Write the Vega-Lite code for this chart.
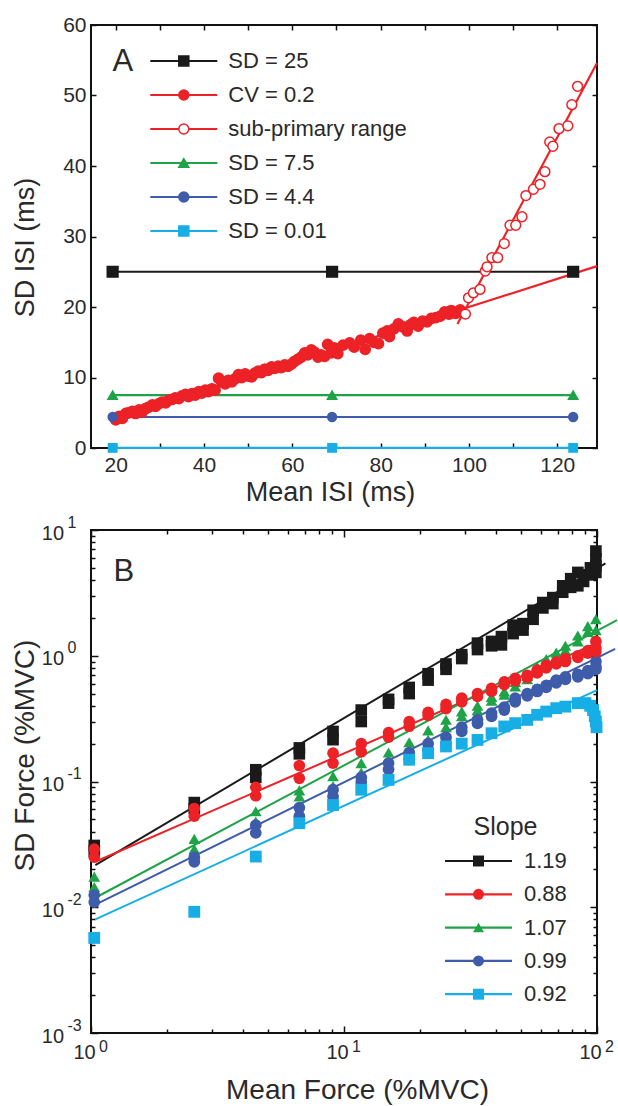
{
"$schema": "https://vega.github.io/schema/vega-lite/v6.json",
"padding": {"left": 10, "top": 13, "right": 0, "bottom": 0},
"spacing": 7,
"config": {
 "font": "Liberation Sans",
 "view": {"stroke": "#111", "strokeWidth": 2},
 "axis": {"grid": false, "domain": false, "tickColor": "#111", "tickWidth": 1.5, "labelColor": "#2a2a2a", "titleColor": "#2a2a2a", "titleFontWeight": "normal", "labelFlush": false, "labelOverlap": false, "labelBound": false},
 "legend": {"padding": 0, "labelColor": "#2a2a2a", "titleColor": "#2a2a2a", "titleFontWeight": "normal"}
},
"resolve": {"scale": {"color": "independent", "fill": "independent", "stroke": "independent", "shape": "independent", "size": "independent"}, "legend": {"color": "independent", "fill": "independent", "stroke": "independent", "shape": "independent"}},
"datasets": {
 "alines": [
  {"series":"SD = 25","x":19.3,"y":25},{"series":"SD = 25","x":69,"y":25},{"series":"SD = 25","x":123.6,"y":25},
  {"series":"SD = 7.5","x":19.3,"y":7.5},{"series":"SD = 7.5","x":69,"y":7.5},{"series":"SD = 7.5","x":123.6,"y":7.5},
  {"series":"SD = 4.4","x":19.3,"y":4.4},{"series":"SD = 4.4","x":69,"y":4.4},{"series":"SD = 4.4","x":123.6,"y":4.4},
  {"series":"SD = 0.01","x":19.3,"y":0.01},{"series":"SD = 0.01","x":69,"y":0.01},{"series":"SD = 0.01","x":123.6,"y":0.01},
  {"series":"CV = 0.2","x":19.5,"y":3.9},{"series":"CV = 0.2","x":129,"y":25.8},
  {"series":"sub-primary range","x":97.4,"y":17.6},{"series":"sub-primary range","x":129,"y":54.6}
 ],
 "apts": [
  {"series":"CV = 0.2","x":20.0,"y":4.0},{"series":"CV = 0.2","x":20.8,"y":4.5},{"series":"CV = 0.2","x":21.5,"y":4.2},{"series":"CV = 0.2","x":22.3,"y":4.9},
  {"series":"CV = 0.2","x":23.0,"y":5.0},{"series":"CV = 0.2","x":23.8,"y":5.2},{"series":"CV = 0.2","x":24.5,"y":4.9},{"series":"CV = 0.2","x":25.3,"y":5.4},
  {"series":"CV = 0.2","x":26.0,"y":5.1},{"series":"CV = 0.2","x":26.8,"y":5.6},{"series":"CV = 0.2","x":27.5,"y":5.8},{"series":"CV = 0.2","x":28.3,"y":6.1},
  {"series":"CV = 0.2","x":29.0,"y":5.9},{"series":"CV = 0.2","x":29.8,"y":6.3},{"series":"CV = 0.2","x":30.5,"y":6.5},{"series":"CV = 0.2","x":31.3,"y":6.4},
  {"series":"CV = 0.2","x":32.0,"y":6.8},{"series":"CV = 0.2","x":32.8,"y":6.9},{"series":"CV = 0.2","x":33.5,"y":7.1},{"series":"CV = 0.2","x":34.3,"y":7.0},
  {"series":"CV = 0.2","x":35.0,"y":7.4},{"series":"CV = 0.2","x":35.8,"y":7.6},{"series":"CV = 0.2","x":36.5,"y":7.3},{"series":"CV = 0.2","x":37.3,"y":7.7},
  {"series":"CV = 0.2","x":38.0,"y":7.5},{"series":"CV = 0.2","x":38.8,"y":8.0},{"series":"CV = 0.2","x":39.5,"y":7.8},{"series":"CV = 0.2","x":40.3,"y":8.2},
  {"series":"CV = 0.2","x":41.0,"y":8.0},{"series":"CV = 0.2","x":41.8,"y":8.4},{"series":"CV = 0.2","x":42.5,"y":8.2},{"series":"CV = 0.2","x":43.3,"y":9.9},
  {"series":"CV = 0.2","x":44.0,"y":9.4},{"series":"CV = 0.2","x":44.8,"y":9.1},{"series":"CV = 0.2","x":45.5,"y":9.6},{"series":"CV = 0.2","x":46.3,"y":9.4},
  {"series":"CV = 0.2","x":47.0,"y":9.8},{"series":"CV = 0.2","x":47.8,"y":10.4},{"series":"CV = 0.2","x":48.5,"y":10.0},{"series":"CV = 0.2","x":49.3,"y":10.5},
  {"series":"CV = 0.2","x":50.0,"y":10.2},{"series":"CV = 0.2","x":50.8,"y":10.1},{"series":"CV = 0.2","x":51.5,"y":10.6},{"series":"CV = 0.2","x":52.3,"y":10.9},
  {"series":"CV = 0.2","x":53.0,"y":10.7},{"series":"CV = 0.2","x":53.8,"y":11.2},{"series":"CV = 0.2","x":54.5,"y":11.0},{"series":"CV = 0.2","x":55.3,"y":11.5},
  {"series":"CV = 0.2","x":56.0,"y":11.3},{"series":"CV = 0.2","x":56.8,"y":11.6},{"series":"CV = 0.2","x":57.5,"y":11.4},{"series":"CV = 0.2","x":58.3,"y":11.8},
  {"series":"CV = 0.2","x":59.0,"y":11.6},{"series":"CV = 0.2","x":59.8,"y":11.9},{"series":"CV = 0.2","x":60.5,"y":12.3},{"series":"CV = 0.2","x":61.3,"y":12.6},
  {"series":"CV = 0.2","x":62.0,"y":12.9},{"series":"CV = 0.2","x":62.8,"y":13.5},{"series":"CV = 0.2","x":63.5,"y":13.2},{"series":"CV = 0.2","x":64.3,"y":13.9},
  {"series":"CV = 0.2","x":65.0,"y":13.6},{"series":"CV = 0.2","x":65.8,"y":12.9},{"series":"CV = 0.2","x":66.5,"y":13.2},{"series":"CV = 0.2","x":67.3,"y":13.0},
  {"series":"CV = 0.2","x":68.0,"y":14.7},{"series":"CV = 0.2","x":68.8,"y":13.5},{"series":"CV = 0.2","x":69.5,"y":14.2},{"series":"CV = 0.2","x":70.3,"y":13.4},
  {"series":"CV = 0.2","x":71.5,"y":14.6},{"series":"CV = 0.2","x":73.0,"y":14.9},{"series":"CV = 0.2","x":74.0,"y":14.3},{"series":"CV = 0.2","x":75.5,"y":15.3},
  {"series":"CV = 0.2","x":76.5,"y":14.0},{"series":"CV = 0.2","x":77.5,"y":15.5},{"series":"CV = 0.2","x":78.5,"y":15.0},{"series":"CV = 0.2","x":79.5,"y":14.8},
  {"series":"CV = 0.2","x":80.5,"y":16.3},{"series":"CV = 0.2","x":81.5,"y":16.6},{"series":"CV = 0.2","x":82.0,"y":15.8},{"series":"CV = 0.2","x":83.0,"y":16.9},
  {"series":"CV = 0.2","x":84.0,"y":17.6},{"series":"CV = 0.2","x":85.0,"y":17.2},{"series":"CV = 0.2","x":86.0,"y":16.6},{"series":"CV = 0.2","x":86.8,"y":17.5},
  {"series":"CV = 0.2","x":87.5,"y":17.8},{"series":"CV = 0.2","x":88.5,"y":17.3},{"series":"CV = 0.2","x":89.5,"y":18.0},{"series":"CV = 0.2","x":90.5,"y":17.9},
  {"series":"CV = 0.2","x":91.5,"y":18.4},{"series":"CV = 0.2","x":92.5,"y":18.5},{"series":"CV = 0.2","x":93.5,"y":18.7},{"series":"CV = 0.2","x":94.5,"y":19.3},
  {"series":"CV = 0.2","x":95.5,"y":19.0},{"series":"CV = 0.2","x":96.0,"y":19.5},{"series":"CV = 0.2","x":97.0,"y":19.1},{"series":"CV = 0.2","x":98.0,"y":19.6},
  {"series":"sub-primary range","x":99.2,"y":19.0},{"series":"sub-primary range","x":99.9,"y":21.3},{"series":"sub-primary range","x":101.0,"y":22.0},
  {"series":"sub-primary range","x":102.5,"y":22.5},{"series":"sub-primary range","x":103.7,"y":25.1},{"series":"sub-primary range","x":104.1,"y":25.7},
  {"series":"sub-primary range","x":105.2,"y":27.0},{"series":"sub-primary range","x":106.5,"y":27.0},{"series":"sub-primary range","x":108.0,"y":29.0},
  {"series":"sub-primary range","x":109.3,"y":31.6},{"series":"sub-primary range","x":110.6,"y":31.6},{"series":"sub-primary range","x":112.0,"y":32.8},
  {"series":"sub-primary range","x":112.9,"y":35.8},{"series":"sub-primary range","x":114.6,"y":36.7},{"series":"sub-primary range","x":116.1,"y":37.4},
  {"series":"sub-primary range","x":117.2,"y":39.2},{"series":"sub-primary range","x":118.3,"y":43.4},{"series":"sub-primary range","x":119.0,"y":42.8},
  {"series":"sub-primary range","x":120.4,"y":45.3},{"series":"sub-primary range","x":122.4,"y":45.7},{"series":"sub-primary range","x":123.3,"y":48.7},
  {"series":"sub-primary range","x":124.6,"y":51.3},
  {"series":"SD = 25","x":19.3,"y":25},{"series":"SD = 25","x":69,"y":25},{"series":"SD = 25","x":123.6,"y":25},
  {"series":"SD = 7.5","x":19.3,"y":7.5},{"series":"SD = 7.5","x":69,"y":7.5},{"series":"SD = 7.5","x":123.6,"y":7.5},
  {"series":"SD = 4.4","x":19.3,"y":4.4},{"series":"SD = 4.4","x":69,"y":4.4},{"series":"SD = 4.4","x":123.6,"y":4.4},
  {"series":"SD = 0.01","x":19.3,"y":0.01},{"series":"SD = 0.01","x":69,"y":0.01},{"series":"SD = 0.01","x":123.6,"y":0.01}
 ],
 "blines": [
  {"slope":"1.19","x":1.04,"y":0.0216},{"slope":"1.19","x":108,"y":5.42},
  {"slope":"0.88","x":1.04,"y":0.023},{"slope":"0.88","x":102,"y":1.28},
  {"slope":"1.07","x":1.04,"y":0.0119},{"slope":"1.07","x":120,"y":1.92},
  {"slope":"0.99","x":1.04,"y":0.0105},{"slope":"0.99","x":118,"y":1.134},
  {"slope":"0.92","x":1.04,"y":0.008},{"slope":"0.92","x":100,"y":0.533}
 ],
 "bpts": [
  {"slope":"1.19","x":1.03,"y":0.031},{"slope":"1.19","x":1.03,"y":0.028},{"slope":"1.19","x":2.56,"y":0.068},{"slope":"1.19","x":2.56,"y":0.061},
  {"slope":"1.19","x":4.48,"y":0.124},{"slope":"1.19","x":4.48,"y":0.108},{"slope":"1.19","x":6.66,"y":0.185},{"slope":"1.19","x":6.66,"y":0.166},
  {"slope":"1.19","x":9.05,"y":0.25},{"slope":"1.19","x":9.05,"y":0.215},{"slope":"1.19","x":11.7,"y":0.37},{"slope":"1.19","x":11.7,"y":0.3},
  {"slope":"1.19","x":15.0,"y":0.45},{"slope":"1.19","x":15.0,"y":0.42},{"slope":"1.19","x":18.1,"y":0.56},{"slope":"1.19","x":18.1,"y":0.5},
  {"slope":"1.19","x":21.5,"y":0.72},{"slope":"1.19","x":21.5,"y":0.64},{"slope":"1.19","x":25.3,"y":0.86},{"slope":"1.19","x":25.3,"y":0.78},
  {"slope":"1.19","x":29.2,"y":1.02},{"slope":"1.19","x":29.2,"y":0.95},{"slope":"1.19","x":33.7,"y":1.26},{"slope":"1.19","x":33.7,"y":1.12},
  {"slope":"1.19","x":38.3,"y":1.3},{"slope":"1.19","x":38.3,"y":1.2},{"slope":"1.19","x":41.9,"y":1.42},{"slope":"1.19","x":41.9,"y":1.22},
  {"slope":"1.19","x":46.6,"y":1.75},{"slope":"1.19","x":46.6,"y":1.5},{"slope":"1.19","x":51.0,"y":1.8},{"slope":"1.19","x":51.0,"y":1.6},
  {"slope":"1.19","x":55.9,"y":2.3},{"slope":"1.19","x":55.9,"y":1.95},{"slope":"1.19","x":61.1,"y":2.65},{"slope":"1.19","x":61.1,"y":2.4},
  {"slope":"1.19","x":66.9,"y":2.9},{"slope":"1.19","x":66.9,"y":2.6},{"slope":"1.19","x":73.2,"y":3.6},{"slope":"1.19","x":73.2,"y":3.2},
  {"slope":"1.19","x":78.7,"y":4.1},{"slope":"1.19","x":78.7,"y":3.5},{"slope":"1.19","x":84,"y":4.6},{"slope":"1.19","x":84,"y":3.6},
  {"slope":"1.19","x":88.5,"y":4.4},{"slope":"1.19","x":88.5,"y":3.9},{"slope":"1.19","x":94.2,"y":5.0},{"slope":"1.19","x":94.2,"y":4.4},
  {"slope":"1.19","x":99,"y":6.8},{"slope":"1.19","x":99,"y":5.9},{"slope":"1.19","x":99,"y":5.2},{"slope":"1.19","x":99,"y":4.6},
  {"slope":"1.07","x":1.03,"y":0.0175},{"slope":"1.07","x":1.03,"y":0.0145},{"slope":"1.07","x":2.56,"y":0.035},{"slope":"1.07","x":2.56,"y":0.029},
  {"slope":"1.07","x":4.48,"y":0.058},{"slope":"1.07","x":4.48,"y":0.048},{"slope":"1.07","x":6.66,"y":0.085},{"slope":"1.07","x":6.66,"y":0.076},
  {"slope":"1.07","x":9.05,"y":0.11},{"slope":"1.07","x":9.05,"y":0.092},{"slope":"1.07","x":11.7,"y":0.14},{"slope":"1.07","x":11.7,"y":0.118},
  {"slope":"1.07","x":15.0,"y":0.17},{"slope":"1.07","x":15.0,"y":0.148},{"slope":"1.07","x":18.1,"y":0.205},{"slope":"1.07","x":18.1,"y":0.18},
  {"slope":"1.07","x":21.5,"y":0.255},{"slope":"1.07","x":21.5,"y":0.215},{"slope":"1.07","x":25.3,"y":0.31},{"slope":"1.07","x":25.3,"y":0.27},
  {"slope":"1.07","x":29.2,"y":0.36},{"slope":"1.07","x":29.2,"y":0.33},{"slope":"1.07","x":33.7,"y":0.4},{"slope":"1.07","x":33.7,"y":0.37},
  {"slope":"1.07","x":38.3,"y":0.47},{"slope":"1.07","x":38.3,"y":0.44},{"slope":"1.07","x":43,"y":0.52},{"slope":"1.07","x":43,"y":0.49},
  {"slope":"1.07","x":47.5,"y":0.62},{"slope":"1.07","x":47.5,"y":0.57},{"slope":"1.07","x":53,"y":0.69},{"slope":"1.07","x":53,"y":0.65},
  {"slope":"1.07","x":58,"y":0.82},{"slope":"1.07","x":58,"y":0.76},{"slope":"1.07","x":63,"y":0.94},{"slope":"1.07","x":63,"y":0.86},
  {"slope":"1.07","x":69,"y":1.06},{"slope":"1.07","x":69,"y":0.98},{"slope":"1.07","x":75,"y":1.2},{"slope":"1.07","x":75,"y":1.1},
  {"slope":"1.07","x":84,"y":1.45},{"slope":"1.07","x":84,"y":1.3},{"slope":"1.07","x":92,"y":1.72},{"slope":"1.07","x":92,"y":1.55},
  {"slope":"1.07","x":99,"y":1.95},{"slope":"1.07","x":99,"y":1.6},
  {"slope":"0.99","x":1.03,"y":0.0125},{"slope":"0.99","x":1.03,"y":0.011},{"slope":"0.99","x":2.56,"y":0.025},{"slope":"0.99","x":2.56,"y":0.023},
  {"slope":"0.99","x":4.48,"y":0.045},{"slope":"0.99","x":4.48,"y":0.039},{"slope":"0.99","x":6.66,"y":0.062},{"slope":"0.99","x":6.66,"y":0.053},
  {"slope":"0.99","x":9.05,"y":0.086},{"slope":"0.99","x":9.05,"y":0.076},{"slope":"0.99","x":11.7,"y":0.108},{"slope":"0.99","x":11.7,"y":0.099},
  {"slope":"0.99","x":15.0,"y":0.14},{"slope":"0.99","x":15.0,"y":0.125},{"slope":"0.99","x":18.1,"y":0.17},{"slope":"0.99","x":18.1,"y":0.15},
  {"slope":"0.99","x":21.5,"y":0.2},{"slope":"0.99","x":21.5,"y":0.18},{"slope":"0.99","x":25.3,"y":0.225},{"slope":"0.99","x":25.3,"y":0.2},
  {"slope":"0.99","x":29.2,"y":0.27},{"slope":"0.99","x":29.2,"y":0.25},{"slope":"0.99","x":33.7,"y":0.31},{"slope":"0.99","x":33.7,"y":0.29},
  {"slope":"0.99","x":38.3,"y":0.35},{"slope":"0.99","x":38.3,"y":0.33},{"slope":"0.99","x":43,"y":0.39},{"slope":"0.99","x":43,"y":0.37},
  {"slope":"0.99","x":47.5,"y":0.46},{"slope":"0.99","x":47.5,"y":0.43},{"slope":"0.99","x":53,"y":0.5},{"slope":"0.99","x":53,"y":0.48},
  {"slope":"0.99","x":58,"y":0.54},{"slope":"0.99","x":58,"y":0.52},{"slope":"0.99","x":63,"y":0.58},{"slope":"0.99","x":63,"y":0.56},
  {"slope":"0.99","x":69,"y":0.64},{"slope":"0.99","x":69,"y":0.61},{"slope":"0.99","x":75,"y":0.68},{"slope":"0.99","x":75,"y":0.65},
  {"slope":"0.99","x":84,"y":0.71},{"slope":"0.99","x":84,"y":0.68},{"slope":"0.99","x":92,"y":0.76},{"slope":"0.99","x":92,"y":0.72},
  {"slope":"0.99","x":99,"y":0.9},{"slope":"0.99","x":99,"y":0.82},{"slope":"0.99","x":99,"y":0.78},
  {"slope":"0.88","x":1.03,"y":0.029},{"slope":"0.88","x":1.03,"y":0.025},{"slope":"0.88","x":2.56,"y":0.061},{"slope":"0.88","x":2.56,"y":0.053},
  {"slope":"0.88","x":4.48,"y":0.09},{"slope":"0.88","x":4.48,"y":0.077},{"slope":"0.88","x":6.66,"y":0.134},{"slope":"0.88","x":6.66,"y":0.106},
  {"slope":"0.88","x":9.05,"y":0.168},{"slope":"0.88","x":9.05,"y":0.14},{"slope":"0.88","x":11.7,"y":0.2},{"slope":"0.88","x":11.7,"y":0.172},
  {"slope":"0.88","x":15.0,"y":0.245},{"slope":"0.88","x":15.0,"y":0.225},{"slope":"0.88","x":18.1,"y":0.3},{"slope":"0.88","x":18.1,"y":0.275},
  {"slope":"0.88","x":21.5,"y":0.355},{"slope":"0.88","x":21.5,"y":0.335},{"slope":"0.88","x":25.3,"y":0.41},{"slope":"0.88","x":25.3,"y":0.38},
  {"slope":"0.88","x":29.2,"y":0.46},{"slope":"0.88","x":29.2,"y":0.43},{"slope":"0.88","x":33.7,"y":0.5},{"slope":"0.88","x":33.7,"y":0.475},
  {"slope":"0.88","x":38.3,"y":0.55},{"slope":"0.88","x":38.3,"y":0.52},{"slope":"0.88","x":43,"y":0.62},{"slope":"0.88","x":43,"y":0.59},
  {"slope":"0.88","x":47.5,"y":0.66},{"slope":"0.88","x":47.5,"y":0.63},{"slope":"0.88","x":53,"y":0.7},{"slope":"0.88","x":53,"y":0.67},
  {"slope":"0.88","x":58,"y":0.77},{"slope":"0.88","x":58,"y":0.73},{"slope":"0.88","x":63,"y":0.84},{"slope":"0.88","x":63,"y":0.8},
  {"slope":"0.88","x":69,"y":0.89},{"slope":"0.88","x":69,"y":0.86},{"slope":"0.88","x":75,"y":0.95},{"slope":"0.88","x":75,"y":0.9},
  {"slope":"0.88","x":84,"y":1.0},{"slope":"0.88","x":84,"y":0.97},{"slope":"0.88","x":92,"y":1.1},{"slope":"0.88","x":92,"y":1.05},
  {"slope":"0.88","x":99,"y":1.3},{"slope":"0.88","x":99,"y":1.15},{"slope":"0.88","x":99,"y":1.08},
  {"slope":"0.92","x":1.03,"y":0.0057},{"slope":"0.92","x":2.56,"y":0.0092},{"slope":"0.92","x":4.48,"y":0.0253},{"slope":"0.92","x":6.66,"y":0.0466},
  {"slope":"0.92","x":9.05,"y":0.065},{"slope":"0.92","x":11.7,"y":0.086},{"slope":"0.92","x":15.0,"y":0.103},{"slope":"0.92","x":18.1,"y":0.149},
  {"slope":"0.92","x":21.5,"y":0.168},{"slope":"0.92","x":25.3,"y":0.19},{"slope":"0.92","x":29.2,"y":0.2},{"slope":"0.92","x":33.7,"y":0.214},
  {"slope":"0.92","x":38.3,"y":0.242},{"slope":"0.92","x":43,"y":0.274},{"slope":"0.92","x":47.5,"y":0.291},{"slope":"0.92","x":53,"y":0.309},
  {"slope":"0.92","x":58,"y":0.339},{"slope":"0.92","x":63,"y":0.36},{"slope":"0.92","x":69,"y":0.383},{"slope":"0.92","x":75,"y":0.394},
  {"slope":"0.92","x":84,"y":0.42},{"slope":"0.92","x":90,"y":0.42},{"slope":"0.92","x":94,"y":0.4},{"slope":"0.92","x":96.5,"y":0.37},
  {"slope":"0.92","x":98,"y":0.33},{"slope":"0.92","x":99,"y":0.3},{"slope":"0.92","x":99.6,"y":0.27}
 ]
},
"vconcat": [
 {
  "width": 506, "height": 423,
  "resolve": {"axis": {"x": "independent", "y": "independent"}, "legend": {"color": "independent", "stroke": "independent", "fill": "independent", "shape": "independent"}},
  "layer": [
   {
    "data": {"name": "alines"},
    "mark": {"type": "line", "strokeWidth": 2.2, "clip": false},
    "encoding": {
     "x": {"field": "x", "type": "quantitative", "scale": {"domain": [14.4, 129], "nice": false, "zero": false},
           "axis": {"orient": "bottom", "values": [20,30,40,50,60,70,80,90,100,110,120], "labelExpr": "datum.value % 20 === 0 ? datum.label : ''", "tickSize": -5, "labelPadding": 11, "labelFontSize": 21, "title": "Mean ISI (ms)", "titleFontSize": 27, "titleX": 239, "titleY": 31, "titleBaseline": "top"}},
     "y": {"field": "y", "type": "quantitative", "scale": {"domain": [0, 60], "nice": false},
           "axis": {"orient": "left", "values": [0,10,20,30,40,50,60], "tickSize": -5, "labelPadding": 10, "labelFontSize": 21, "title": "SD ISI (ms)", "titleFontSize": 27, "titleX": -52, "titleY": 222}},
     "color": {"field": "series", "type": "nominal",
       "scale": {"domain": ["SD = 25","CV = 0.2","sub-primary range","SD = 7.5","SD = 4.4","SD = 0.01"], "range": ["#1a1a1a","#ec2227","#ec2227","#1fa347","#3e5caa","#17aee6"]},
       "legend": {"orient": "none", "legendX": 57.8, "legendY": 25, "title": null, "symbolType": "stroke", "symbolSize": 4489, "symbolStrokeWidth": 2.2, "labelFontSize": 22, "clipHeight": 22, "rowPadding": 12, "labelOffset": 9.5, "labelLimit": 400}}
    }
   },
   {
    "data": {"name": "apts"},
    "mark": {"type": "point", "filled": false, "strokeWidth": 1.5, "opacity": 1},
    "encoding": {
     "x": {"field": "x", "type": "quantitative", "scale": {"domain": [14.4, 129], "nice": false, "zero": false},
           "axis": {"orient": "top", "values": [20,30,40,50,60,70,80,90,100,110,120], "labels": false, "tickSize": -5, "title": "A", "titleFontSize": 31, "titleAlign": "left", "titleBaseline": "alphabetic", "titleX": 21, "titleY": 45, "titleAngle": 0}},
     "y": {"field": "y", "type": "quantitative", "scale": {"domain": [0, 60], "nice": false},
           "axis": {"orient": "right", "values": [0,10,20,30,40,50,60], "labels": false, "tickSize": -5, "title": null}},
     "stroke": {"field": "series", "type": "nominal",
       "scale": {"domain": ["SD = 25","CV = 0.2","sub-primary range","SD = 7.5","SD = 4.4","SD = 0.01"], "range": ["#1a1a1a","#ec2227","#ec2227","#1fa347","#3e5caa","#17aee6"]},
       "legend": {"orient": "none", "legendX": 81.8, "legendY": 25, "title": null, "symbolSize": 100, "symbolStrokeWidth": 1.5, "symbolOpacity": 1, "labelFontSize": 22, "labelExpr": "' '", "labelColor": "rgba(0,0,0,0)", "rowPadding": 12, "labelOffset": 9.5}},
     "fill": {"field": "series", "type": "nominal",
       "scale": {"domain": ["SD = 25","CV = 0.2","sub-primary range","SD = 7.5","SD = 4.4","SD = 0.01"], "range": ["#1a1a1a","#ec2227","#ffffff","#1fa347","#3e5caa","#17aee6"]},
       "legend": {"orient": "none", "legendX": 81.8, "legendY": 25, "title": null, "symbolSize": 100, "symbolStrokeWidth": 1.5, "symbolOpacity": 1, "labelFontSize": 22, "labelExpr": "' '", "labelColor": "rgba(0,0,0,0)", "rowPadding": 12, "labelOffset": 9.5}},
     "shape": {"field": "series", "type": "nominal",
       "scale": {"domain": ["SD = 25","CV = 0.2","sub-primary range","SD = 7.5","SD = 4.4","SD = 0.01"], "range": ["square","circle","circle","triangle-up","circle","square"]},
       "legend": {"orient": "none", "legendX": 81.8, "legendY": 25, "title": null, "symbolSize": 100, "symbolStrokeWidth": 1.5, "symbolOpacity": 1, "labelFontSize": 22, "labelExpr": "' '", "labelColor": "rgba(0,0,0,0)", "rowPadding": 12, "labelOffset": 9.5}},
     "size": {"field": "series", "type": "nominal",
       "scale": {"domain": ["SD = 25","CV = 0.2","sub-primary range","SD = 7.5","SD = 4.4","SD = 0.01"], "range": [115, 70, 60, 210, 135, 100]}, "legend": null}
    }
   }
  ]
 },
 {
  "width": 506, "height": 503,
  "resolve": {"axis": {"x": "independent", "y": "independent"}, "legend": {"color": "independent", "fill": "independent", "shape": "independent"}},
  "layer": [
   {
    "data": {"name": "blines"},
    "mark": {"type": "line", "strokeWidth": 2, "clip": false},
    "encoding": {
     "x": {"field": "x", "type": "quantitative", "scale": {"type": "log", "domain": [1, 100], "nice": false},
           "axis": {"orient": "bottom", "values": [1,10,100], "labelExpr": "'10'", "tickSize": -7, "labelPadding": 16.5, "labelOffset": -7, "labelFontSize": 20, "title": "Mean Force (%MVC)", "titleFontSize": 28, "titleX": 266, "titleY": 43, "titleBaseline": "top"}},
     "y": {"field": "y", "type": "quantitative", "scale": {"type": "log", "domain": [0.001, 10], "nice": false},
           "axis": {"orient": "left", "values": [0.001,0.01,0.1,1,10], "labelExpr": "'10'", "tickSize": -7, "labelPadding": 34.4, "labelOffset": 3, "labelFontSize": 20, "title": "SD Force (%MVC)", "titleFontSize": 28, "titleX": -52, "titleY": 225}},
     "color": {"field": "slope", "type": "nominal",
       "scale": {"domain": ["1.19","0.88","1.07","0.99","0.92"], "range": ["#1a1a1a","#ec2227","#1fa347","#3e5caa","#17aee6"]},
       "legend": {"orient": "none", "legendX": 352.5, "legendY": 285, "title": "Slope", "titleFontSize": 25, "titleAnchor": "middle", "titlePadding": 10, "symbolType": "stroke", "symbolSize": 4489, "symbolStrokeWidth": 2.2, "labelFontSize": 22, "clipHeight": 22, "rowPadding": 11.3, "labelOffset": 10.5}}
    }
   },
   {
    "data": {"name": "bpts"},
    "transform": [{"filter": "datum.slope === '1.19'"}],
    "mark": {"type": "point", "filled": true, "opacity": 1},
    "encoding": {
     "x": {"field": "x", "type": "quantitative", "scale": {"type": "log", "domain": [1, 100], "nice": false},
           "axis": {"orient": "bottom", "values": [1,10,100], "labelExpr": "'' + round(log(datum.value)/LN10)", "ticks": false, "labelPadding": 5, "labelOffset": 12, "labelFontSize": 16, "title": null}},
     "y": {"field": "y", "type": "quantitative", "scale": {"type": "log", "domain": [0.001, 10], "nice": false},
           "axis": {"orient": "left", "values": [0.001,0.01,0.1,1,10], "labelExpr": "'' + round(log(datum.value)/LN10)", "ticks": false, "labelAlign": "left", "labelPadding": 24, "labelOffset": -8, "labelFontSize": 16, "title": null}},
     "fill": {"field": "slope", "type": "nominal",
       "scale": {"domain": ["1.19","0.88","1.07","0.99","0.92"], "range": ["#1a1a1a","#ec2227","#1fa347","#3e5caa","#17aee6"]},
       "legend": {"orient": "none", "legendX": 376.5, "legendY": 285, "title": " ", "titleFontSize": 25, "titleAnchor": "middle", "titlePadding": 10, "titleColor": "rgba(0,0,0,0)", "labelExpr": "' '", "labelColor": "rgba(0,0,0,0)", "symbolSize": 120, "symbolStrokeWidth": 1, "symbolOpacity": 1, "labelFontSize": 22, "rowPadding": 11.3, "labelOffset": 10.5}},
     "shape": {"field": "slope", "type": "nominal",
       "scale": {"domain": ["1.19","0.88","1.07","0.99","0.92"], "range": ["square","circle","triangle-up","circle","square"]},
       "legend": {"orient": "none", "legendX": 376.5, "legendY": 285, "title": " ", "titleFontSize": 25, "titleAnchor": "middle", "titlePadding": 10, "titleColor": "rgba(0,0,0,0)", "labelExpr": "' '", "labelColor": "rgba(0,0,0,0)", "symbolSize": 120, "symbolStrokeWidth": 1, "symbolOpacity": 1, "labelFontSize": 22, "rowPadding": 11.3, "labelOffset": 10.5}},
     "size": {"field": "slope", "type": "nominal", "scale": {"domain": ["1.19","0.88","1.07","0.99","0.92"], "range": [135, 140, 220, 120, 64]}, "legend": null}
    }
   },
   {
    "data": {"name": "bpts"},
    "transform": [{"filter": "datum.slope === '1.07'"}],
    "mark": {"type": "point", "filled": true, "opacity": 1},
    "encoding": {
     "x": {"field": "x", "type": "quantitative", "scale": {"type": "log", "domain": [1, 100], "nice": false},
           "axis": {"orient": "bottom", "values": [2,3,4,5,6,7,8,9,20,30,40,50,60,70,80,90], "labels": false, "tickSize": -4, "title": null}},
     "y": {"field": "y", "type": "quantitative", "scale": {"type": "log", "domain": [0.001, 10], "nice": false},
           "axis": {"orient": "left", "values": [0.002,0.003,0.004,0.005,0.006,0.007,0.008,0.009,0.02,0.03,0.04,0.05,0.06,0.07,0.08,0.09,0.2,0.3,0.4,0.5,0.6,0.7,0.8,0.9,2,3,4,5,6,7,8,9], "labels": false, "tickSize": -4, "title": null}},
     "fill": {"field": "slope", "type": "nominal", "scale": {"domain": ["1.19","0.88","1.07","0.99","0.92"], "range": ["#1a1a1a","#ec2227","#1fa347","#3e5caa","#17aee6"]}, "legend": null},
     "shape": {"field": "slope", "type": "nominal", "scale": {"domain": ["1.19","0.88","1.07","0.99","0.92"], "range": ["square","circle","triangle-up","circle","square"]}, "legend": null},
     "size": {"field": "slope", "type": "nominal", "scale": {"domain": ["1.19","0.88","1.07","0.99","0.92"], "range": [135, 140, 220, 120, 64]}, "legend": null}
    }
   },
   {
    "data": {"name": "bpts"},
    "transform": [{"filter": "datum.slope === '0.99'"}],
    "mark": {"type": "point", "filled": true, "opacity": 1},
    "encoding": {
     "x": {"field": "x", "type": "quantitative", "scale": {"type": "log", "domain": [1, 100], "nice": false},
           "axis": {"orient": "top", "values": [1,10,100], "labels": false, "tickSize": -7, "title": "B", "titleFontSize": 31, "titleAlign": "left", "titleBaseline": "alphabetic", "titleX": 22, "titleY": 50, "titleAngle": 0}},
     "y": {"field": "y", "type": "quantitative", "scale": {"type": "log", "domain": [0.001, 10], "nice": false},
           "axis": {"orient": "right", "values": [0.001,0.01,0.1,1,10], "labels": false, "tickSize": -7, "title": null}},
     "fill": {"field": "slope", "type": "nominal", "scale": {"domain": ["1.19","0.88","1.07","0.99","0.92"], "range": ["#1a1a1a","#ec2227","#1fa347","#3e5caa","#17aee6"]}, "legend": null},
     "shape": {"field": "slope", "type": "nominal", "scale": {"domain": ["1.19","0.88","1.07","0.99","0.92"], "range": ["square","circle","triangle-up","circle","square"]}, "legend": null},
     "size": {"field": "slope", "type": "nominal", "scale": {"domain": ["1.19","0.88","1.07","0.99","0.92"], "range": [135, 140, 220, 120, 64]}, "legend": null}
    }
   },
   {
    "data": {"name": "bpts"},
    "transform": [{"filter": "datum.slope === '0.88'"}],
    "mark": {"type": "point", "filled": true, "opacity": 1},
    "encoding": {
     "x": {"field": "x", "type": "quantitative", "scale": {"type": "log", "domain": [1, 100], "nice": false},
           "axis": {"orient": "top", "values": [2,3,4,5,6,7,8,9,20,30,40,50,60,70,80,90], "labels": false, "tickSize": -4, "title": null}},
     "y": {"field": "y", "type": "quantitative", "scale": {"type": "log", "domain": [0.001, 10], "nice": false},
           "axis": {"orient": "right", "values": [0.002,0.003,0.004,0.005,0.006,0.007,0.008,0.009,0.02,0.03,0.04,0.05,0.06,0.07,0.08,0.09,0.2,0.3,0.4,0.5,0.6,0.7,0.8,0.9,2,3,4,5,6,7,8,9], "labels": false, "tickSize": -4, "title": null}},
     "fill": {"field": "slope", "type": "nominal", "scale": {"domain": ["1.19","0.88","1.07","0.99","0.92"], "range": ["#1a1a1a","#ec2227","#1fa347","#3e5caa","#17aee6"]}, "legend": null},
     "shape": {"field": "slope", "type": "nominal", "scale": {"domain": ["1.19","0.88","1.07","0.99","0.92"], "range": ["square","circle","triangle-up","circle","square"]}, "legend": null},
     "size": {"field": "slope", "type": "nominal", "scale": {"domain": ["1.19","0.88","1.07","0.99","0.92"], "range": [135, 140, 220, 120, 64]}, "legend": null}
    }
   },
   {
    "data": {"name": "bpts"},
    "transform": [{"filter": "datum.slope === '0.92'"}],
    "mark": {"type": "point", "filled": true, "opacity": 1},
    "encoding": {
     "x": {"field": "x", "type": "quantitative", "scale": {"type": "log", "domain": [1, 100], "nice": false}, "axis": null},
     "y": {"field": "y", "type": "quantitative", "scale": {"type": "log", "domain": [0.001, 10], "nice": false}, "axis": null},
     "fill": {"field": "slope", "type": "nominal", "scale": {"domain": ["1.19","0.88","1.07","0.99","0.92"], "range": ["#1a1a1a","#ec2227","#1fa347","#3e5caa","#17aee6"]}, "legend": null},
     "shape": {"field": "slope", "type": "nominal", "scale": {"domain": ["1.19","0.88","1.07","0.99","0.92"], "range": ["square","circle","triangle-up","circle","square"]}, "legend": null},
     "size": {"field": "slope", "type": "nominal", "scale": {"domain": ["1.19","0.88","1.07","0.99","0.92"], "range": [135, 140, 220, 120, 64]}, "legend": null}
    }
   }
  ]
 }
]
}
